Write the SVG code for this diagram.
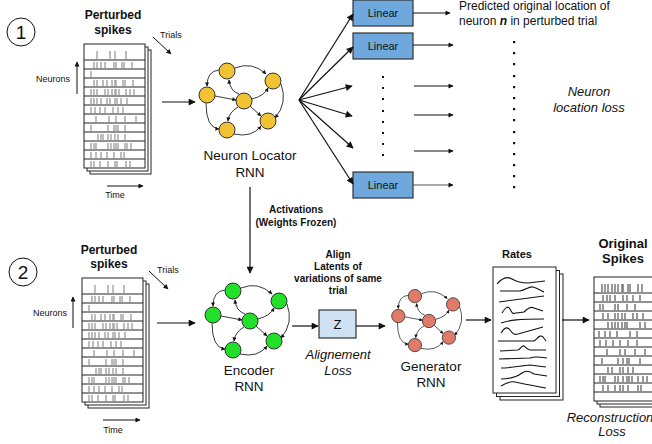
<svg xmlns="http://www.w3.org/2000/svg" xmlns:xlink="http://www.w3.org/1999/xlink" width="652" height="444" viewBox="0 0 652 444">
<style>
text{font-family:"Liberation Sans",Arial,sans-serif;fill:#111}
.b{font-weight:bold}
.i{font-style:italic}
.sheet{fill:#fff;stroke:#222;stroke-width:1}
.rowl{stroke:#222;stroke-width:1;fill:none}
.tick{stroke:#a8a8a8;stroke-width:1.5;fill:none}
.edge{stroke:#222;stroke-width:0.9;fill:none}
.ln{stroke:#111;stroke-width:1.2;fill:none}
.thin{stroke:#111;stroke-width:1;fill:none}
.node{stroke:#333;stroke-width:1}
.lin{fill:#6fa8dc;stroke:#333;stroke-width:1.2}
.rate{stroke:#111;stroke-width:1.1;fill:none}
</style>
<defs>
<marker id="ah" viewBox="0 0 10 10" refX="9" refY="5" markerWidth="8" markerHeight="7" markerUnits="userSpaceOnUse" orient="auto"><path d="M0,0L10,5L0,10z" fill="#111"/></marker>
<marker id="at" viewBox="0 0 10 10" refX="9" refY="5" markerWidth="6" markerHeight="5" markerUnits="userSpaceOnUse" orient="auto"><path d="M0,0L10,5L0,10z" fill="#111"/></marker>
<marker id="as" viewBox="0 0 10 10" refX="9" refY="5" markerWidth="5" markerHeight="4" markerUnits="userSpaceOnUse" orient="auto"><path d="M0,0L10,5L0,10z" fill="#111"/></marker>
<g id="rnnShape">
<g class="edge" marker-end="url(#as)">
<path d="M-9,-33Q8,-40 22,-27"/>
<path d="M8,-2Q20,-5 24,-13"/>
<path d="M37,-17Q44,2 31,17"/>
<path d="M-25,-31Q-37,-30 -37,-15"/>
<path d="M-5,-7Q-14,-10 -15,-21"/>
<path d="M-29,-5L-8,-1"/>
<path d="M-38,2Q-38,27 -25,28"/>
<path d="M-10,33Q8,37 17,25"/>
<path d="M6,5L17,15"/>
<path d="M-6,6Q-15,11 -16,20"/>
</g>
<g class="node">
<circle cx="-17" cy="-30" r="8"/>
<circle cx="29" cy="-20" r="8"/>
<circle cx="-37" cy="-6" r="8"/>
<circle cx="0" cy="0" r="8"/>
<circle cx="24" cy="20" r="8"/>
<circle cx="-17" cy="29" r="8"/>
</g>
</g>
<g id="rasterP">
<rect class="sheet" x="0" y="0" width="61" height="124"/>
<path class="rowl" d="M0,16h61M0,25h61M0,34h61M0,43h61M0,52h61M0,61h61M0,70h61M0,79h61M0,88h61M0,97h61M0,106h61M0,115h61"/>
<path class="tick" d="M13,7v8M26,7v8M31,7v8M42,7v8
M10,18v6M13,18v6M17,18v6M21,18v6M30,18v6M32,18v6M38,18v6M40,18v6M48,18v6
M7,27v6
M10,36v6M13,36v6M19,36v6M23,36v6M28,36v6M31,36v6M32,36v6M39,36v6M41,36v6M49,36v6
M7,45v6M10,45v6M13,45v6M21,45v6M24,45v6M28,45v6M31,45v6M32,45v6M35,45v6M42,45v6M46,45v6M50,45v6
M7,54v6M10,54v6M13,54v6M17,54v6M23,54v6M26,54v6M31,54v6M33,54v6M37,54v6M43,54v6
M7,63v6M11,63v6M16,63v6M21,63v6M29,63v6M34,63v6M39,63v6
M12,72v6M25,72v6M32,72v6M41,72v6M52,72v6
M7,81v6M24,81v6M30,81v6M32,81v6M34,81v6M41,81v6
M14,90v6M17,90v6M19,90v6M24,90v6M27,90v6M31,90v6M34,90v6M41,90v6
M7,99v6M10,99v6M12,99v6M24,99v6M27,99v6M30,99v6M32,99v6M34,99v6M41,99v6M43,99v6M47,99v6
M7,108v6M12,108v6M17,108v6M23,108v6M30,108v6M37,108v6M40,108v6
M7,117v6M10,117v6M16,117v6M24,117v6M31,117v6M33,117v6M42,117v6M46,117v6"/>
</g>
</defs>

<!-- Section 1 -->
<g id="num1"><circle cx="21" cy="32" r="14" fill="none" stroke="#111" stroke-width="1"/><text x="21" y="39" font-size="19" text-anchor="middle">1</text></g>

<g id="spikes1">
<text class="b" x="113" y="19" font-size="12" text-anchor="middle">Perturbed</text>
<text class="b" x="113" y="34" font-size="12" text-anchor="middle">spikes</text>
<rect class="sheet" x="90" y="50" width="61" height="124"/>
<rect class="sheet" x="87" y="47" width="61" height="124"/>
<use xlink:href="#rasterP" href="#rasterP" x="84" y="44"/>
<text x="36" y="82" font-size="9">Neurons</text>
<path class="thin" d="M77,94V62" marker-end="url(#at)"/>
<path class="thin" d="M107,186H143" marker-end="url(#at)"/>
<text x="115" y="198" font-size="9" text-anchor="middle">Time</text>
<path class="thin" d="M153,37L171,54" marker-end="url(#at)"/>
<text x="160" y="38" font-size="9">Trials</text>
</g>

<g id="locator">
<use xlink:href="#rnnShape" href="#rnnShape" fill="#f1c232" transform="translate(244,101)"/>
<text x="250" y="160" font-size="13.5" text-anchor="middle">Neuron Locator</text>
<text x="250" y="177" font-size="13.5" text-anchor="middle">RNN</text>
</g>

<g id="linear1"><rect class="lin" x="353" y="0" width="60" height="26"/><text x="383" y="17" font-size="11" text-anchor="middle">Linear</text></g>
<g id="linear2"><rect class="lin" x="353" y="33" width="60" height="26"/><text x="383" y="50" font-size="11" text-anchor="middle">Linear</text></g>
<g id="linear3"><rect class="lin" x="353" y="172" width="60" height="26"/><text x="383" y="189" font-size="11" text-anchor="middle">Linear</text></g>

<g id="dots1" fill="#111">
<rect x="382" y="76" width="2" height="2"/><rect x="382" y="87" width="2" height="2"/><rect x="382" y="98" width="2" height="2"/><rect x="382" y="110" width="2" height="2"/><rect x="382" y="121" width="2" height="2"/><rect x="382" y="132" width="2" height="2"/><rect x="382" y="143" width="2" height="2"/><rect x="382" y="154" width="2" height="2"/>
</g>
<g id="dots2" fill="#111">
<rect x="513" y="41" width="2.2" height="2.2"/><rect x="513" y="52" width="2.2" height="2.2"/><rect x="513" y="63" width="2.2" height="2.2"/><rect x="513" y="75" width="2.2" height="2.2"/><rect x="513" y="86" width="2.2" height="2.2"/><rect x="513" y="97" width="2.2" height="2.2"/><rect x="513" y="108" width="2.2" height="2.2"/><rect x="513" y="119" width="2.2" height="2.2"/><rect x="513" y="131" width="2.2" height="2.2"/><rect x="513" y="142" width="2.2" height="2.2"/><rect x="513" y="153" width="2.2" height="2.2"/><rect x="513" y="164" width="2.2" height="2.2"/><rect x="513" y="175" width="2.2" height="2.2"/><rect x="513" y="186" width="2.2" height="2.2"/>
</g>

<g id="predicted">
<text x="459" y="10" font-size="12">Predicted original location of</text>
<text x="459" y="25" font-size="12">neuron <tspan class="b i">n</tspan> in perturbed trial</text>
</g>
<g id="nloss">
<text class="i" x="589" y="96" font-size="13" text-anchor="middle">Neuron</text>
<text class="i" x="589" y="112" font-size="13" text-anchor="middle">location loss</text>
</g>

<!-- Section 2 -->
<g id="num2"><circle cx="23" cy="272" r="14" fill="none" stroke="#111" stroke-width="1"/><text x="23" y="279" font-size="19" text-anchor="middle">2</text></g>

<g id="spikes2">
<text class="b" x="109" y="254" font-size="12" text-anchor="middle">Perturbed</text>
<text class="b" x="109" y="268" font-size="12" text-anchor="middle">spikes</text>
<rect class="sheet" x="88" y="284" width="61" height="124"/>
<rect class="sheet" x="85" y="281" width="61" height="124"/>
<use xlink:href="#rasterP" href="#rasterP" x="82" y="278"/>
<text x="33" y="316" font-size="9">Neurons</text>
<path class="thin" d="M73,328V297" marker-end="url(#at)"/>
<path class="thin" d="M103,420H140" marker-end="url(#at)"/>
<text x="113" y="433" font-size="9" text-anchor="middle">Time</text>
<path class="thin" d="M149,271L168,289" marker-end="url(#at)"/>
<text x="157" y="273" font-size="9">Trials</text>
</g>

<g id="encoder">
<use xlink:href="#rnnShape" href="#rnnShape" fill="#22e02a" transform="translate(250,321)"/>
<text x="249" y="375" font-size="13.5" text-anchor="middle">Encoder</text>
<text x="249" y="391" font-size="13.5" text-anchor="middle">RNN</text>
</g>

<g id="zbox">
<rect x="319" y="310" width="37" height="28" fill="#cfe2f3" stroke="#333" stroke-width="1.2"/>
<text x="337.5" y="329" font-size="13" text-anchor="middle">Z</text>
<text class="i" x="338" y="359" font-size="13" text-anchor="middle">Alignement</text>
<text class="i" x="338" y="375" font-size="13" text-anchor="middle">Loss</text>
</g>
<g id="alignlabel">
<text class="b" x="338" y="258" font-size="10" text-anchor="middle">Align</text>
<text class="b" x="338" y="270" font-size="10" text-anchor="middle">Latents of</text>
<text class="b" x="338" y="282" font-size="10" text-anchor="middle">variations of same</text>
<text class="b" x="338" y="294" font-size="10" text-anchor="middle">trial</text>
</g>
<g id="actlabel">
<text class="b" x="296" y="213" font-size="10" text-anchor="middle">Activations</text>
<text class="b" x="296" y="226" font-size="10" text-anchor="middle">(Weights Frozen)</text>
</g>

<g id="generator">
<use xlink:href="#rnnShape" href="#rnnShape" fill="#e07b6a" transform="translate(429,321) scale(0.83)"/>
<text x="431" y="371" font-size="13.5" text-anchor="middle">Generator</text>
<text x="431" y="387" font-size="13.5" text-anchor="middle">RNN</text>
</g>

<g id="rates">
<text class="b" x="517" y="258" font-size="11" text-anchor="middle">Rates</text>
<rect class="sheet" x="500" y="274" width="63" height="126"/>
<rect class="sheet" x="496.5" y="270.5" width="63" height="126"/>
<rect class="sheet" x="493" y="267" width="63" height="126"/>
<g class="rate">
<path d="M497,284C502,278 507,276 512,279S520,283 528,283L545,281"/>
<path d="M500,291L520,291C526,290 529,286 533,287S540,290 544,292"/>
<path d="M499,302L544,296"/>
<path d="M502,313C505,308 508,305 510,309S512,314 516,313L524,312C528,308 531,306 534,308L543,311"/>
<path d="M501,323C510,320 518,319 544,319"/>
<path d="M501,333C504,328 507,326 510,330S514,335 518,334L543,327"/>
<path d="M498,341L534,341C538,338 540,334 543,337L546,341"/>
<path d="M500,351L518,350C521,349 522,345 524,346S527,350 530,350L546,350"/>
<path d="M499,359L530,358C535,356 540,357 547,358"/>
<path d="M501,368C510,368 520,366 530,365L546,367"/>
<path d="M501,379C512,379 518,376 522,373C526,370 530,371 534,374L547,376"/>
<path d="M501,386C506,383 510,381 515,382C525,384 535,386 546,388"/>
</g>
</g>

<g id="original">
<text class="b" x="623" y="248" font-size="13" text-anchor="middle">Original</text>
<text class="b" x="623" y="263" font-size="13" text-anchor="middle">Spikes</text>
<rect class="sheet" x="600" y="283" width="62" height="124"/>
<rect class="sheet" x="597" y="280" width="62" height="124"/>
<rect class="sheet" x="594" y="277" width="62" height="124"/>
<path class="rowl" d="M594,293h62M594,302h62M594,311h62M594,320h62M594,329h62M594,338h62M594,347h62M594,356h62M594,365h62M594,374h62M594,383h62M594,392h62"/>
<g transform="translate(594,277)">
<path class="tick" d="M8,7v8M11,7v8M14,7v8M18,7v8M21,7v8M24,7v8M28,7v8M29,7v8M34,7v8M36,7v8M44,7v8M48,7v8
M9,18v6M13,18v6M16,18v6M21,18v6M29,18v6M33,18v6M39,18v6M46,18v6
M6,27v6M9,27v6M21,27v6M24,27v6M33,27v6M41,27v6
M9,36v6M14,36v6M21,36v6M24,36v6M28,36v6M31,36v6M39,36v6M43,36v6M49,36v6
M14,45v6M18,45v6M21,45v6M24,45v6M28,45v6M31,45v6M33,45v6M46,45v6M51,45v6
M5,54v6M11,54v6M16,54v6M23,54v6M36,54v6M43,54v6
M6,63v6M12,63v6M19,63v6M26,63v6M34,63v6M43,63v6
M13,72v6M26,72v6M31,72v6M41,72v6M51,72v6
M8,81v6M24,81v6M29,81v6M33,81v6M35,81v6M46,81v6
M14,90v6M18,90v6M26,90v6M29,90v6M34,90v6M39,90v6
M6,99v6M9,99v6M11,99v6M21,99v6M24,99v6M29,99v6M33,99v6M35,99v6M38,99v6M44,99v6M49,99v6M53,99v6
M9,108v6M14,108v6M21,108v6M26,108v6M29,108v6M34,108v6M44,108v6M47,108v6" style="stroke:#777"/>
</g>
<text class="i" x="610" y="422" font-size="13" text-anchor="middle">Reconstruction</text>
<text class="i" x="612" y="436" font-size="13" text-anchor="middle">Loss</text>
</g>

<g id="connectors">
<path class="ln" d="M162,102H195" marker-end="url(#ah)" stroke-width="1.4"/>
<g class="ln" marker-end="url(#ah)">
<path d="M299,100L353,14"/>
<path d="M299,100L353,47"/>
<path d="M299,100L352,86"/>
<path d="M299,100L352,116"/>
<path d="M299,100L353,148"/>
<path d="M299,100L353,184"/>
</g>
<g class="thin" marker-end="url(#at)">
<path d="M413,13H450"/>
<path d="M413,45H453"/>
<path d="M414,86H453"/>
<path d="M414,115H453"/>
<path d="M414,151H453"/>
<path d="M413,185H453" stroke="#555"/>
</g>
<path class="ln" d="M250,187V273" marker-end="url(#ah)"/>
<path class="ln" d="M157,323H195" marker-end="url(#ah)" stroke-width="1.4"/>
<path class="ln" d="M292,326H318" marker-end="url(#ah)" stroke-width="1.4"/>
<path class="ln" d="M356,326H385" marker-end="url(#ah)" stroke-width="1.4"/>
<path class="ln" d="M466,320H491" marker-end="url(#ah)" stroke-width="1.4"/>
<path class="ln" d="M562,320H589" marker-end="url(#ah)" stroke-width="1.4"/>
</g>
</svg>
